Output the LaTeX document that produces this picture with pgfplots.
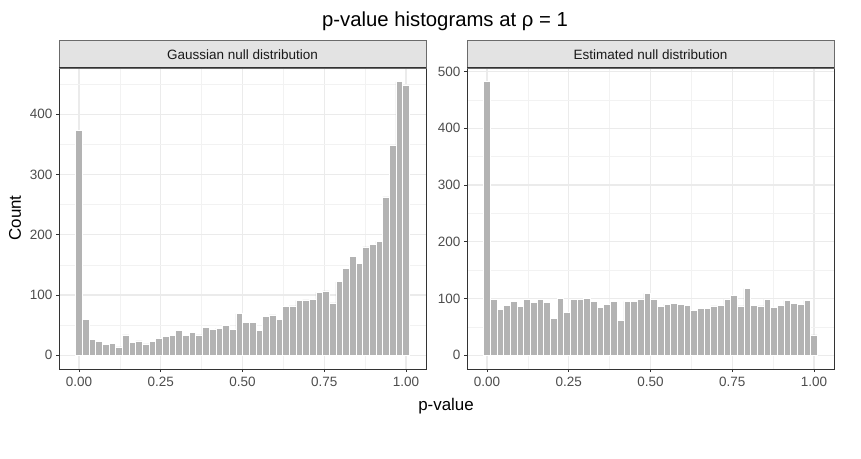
\documentclass[border=0pt]{standalone}
\usepackage{pgfplots}
\pgfplotsset{compat=1.18}
\usepackage{pgfplotstable}
\usetikzlibrary{calc}
\usepackage{fontspec}
\setmainfont{Liberation Sans}
\definecolor{barfill}{HTML}{B3B3B3}
\definecolor{gridmaj}{HTML}{EBEBEB}
\definecolor{gridmin}{HTML}{F2F2F2}
\definecolor{frame}{HTML}{333333}
\definecolor{ticklab}{HTML}{4D4D4D}
\definecolor{stripfill}{HTML}{E3E3E3}
\definecolor{stripframe}{HTML}{6B6B6B}

\pgfplotstableread{
x      g    e
0      373  482
0.0204 59   99
0.0408 27   81
0.0612 23   88
0.0816 18   95
0.1020 20   86
0.1224 14   99
0.1429 34   93
0.1633 22   99
0.1837 24   93
0.2041 19   65
0.2245 23   100
0.2449 28   75
0.2653 32   98
0.2857 33   99
0.3061 41   100
0.3265 33   95
0.3469 38   85
0.3673 34   90
0.3878 46   95
0.4082 43   61
0.4286 45   95
0.4490 49   95
0.4694 43   98
0.4898 69   109
0.5102 55   99
0.5306 55   86
0.5510 42   90
0.5714 64   92
0.5918 67   90
0.6122 60   88
0.6327 81   79
0.6531 82   83
0.6735 91   82
0.6939 92   87
0.7143 93   88
0.7347 105  99
0.7551 107  105
0.7755 87   87
0.7959 122  118
0.8163 144  88
0.8367 164  87
0.8571 153  99
0.8776 180  85
0.8980 184  88
0.9184 189  97
0.9388 263  92
0.9592 348  90
0.9796 454  97
1.0000 448  36
}\histdata

\pgfplotsset{
  facet/.style={
    scale only axis,
    width=367pt, height=301pt,
    xmin=-0.0612, xmax=1.0612,
    xtick={0,0.25,0.5,0.75,1},
    xticklabels={0.00,0.25,0.50,0.75,1.00},
    minor xtick={0.125,0.375,0.625,0.875},
    grid=both,
    major grid style={gridmaj, line width=1.1pt},
    minor grid style={gridmin, line width=0.55pt},
    minor tick length=0pt,
    major tick length=3pt,
    tick align=outside,
    xtick pos=bottom, ytick pos=left,
    tick style={frame, line width=0.7pt},
    axis line style={frame, line width=1pt},
    axis on top=false,
    ticklabel style={font=\fontsize{13.5}{15}\selectfont, text=ticklab},
    /pgf/number format/assume math mode=true,
    xticklabel style={yshift=-1.5pt},
    yticklabel style={xshift=0pt},
    ybar, bar width=0.0204, bar shift=0pt,
    clip=true,
  }
}

\begin{document}
\begin{tikzpicture}[x=1pt,y=1pt]
\useasboundingbox (0,0) rectangle (861,458);

\begin{axis}[facet, name=left, at={(59pt,89pt)}, anchor=south west,
  ymin=-22.7, ymax=476.7,
  ytick={0,100,200,300,400},
  minor ytick={50,150,250,350,450}]
  \addplot[fill=barfill, draw=white, line width=0.6pt] table[x=x, y=g] {\histdata};
\end{axis}

\begin{axis}[facet, name=right, at={(467pt,89pt)}, anchor=south west,
  ymin=-24.1, ymax=506.1,
  ytick={0,100,200,300,400,500},
  minor ytick={50,150,250,350,450}]
  \addplot[fill=barfill, draw=white, line width=0.6pt] table[x=x, y=e] {\histdata};
\end{axis}

% facet strips
\draw[fill=stripfill, draw=stripframe, line width=0.8pt] (left.north west) rectangle ([yshift=27.5pt]left.north east);
\draw[fill=stripfill, draw=stripframe, line width=0.8pt] (right.north west) rectangle ([yshift=27.5pt]right.north east);
\draw[frame, line width=1pt] (left.north west) -- (left.north east);
\draw[frame, line width=1pt] (right.north west) -- (right.north east);
\node[font=\fontsize{13.5}{15}\selectfont, text=black!90] at ($(left.north west)!0.5!(left.north east)+(0,13.75)$) {Gaussian null distribution};
\node[font=\fontsize{13.5}{15}\selectfont, text=black!90] at ($(right.north west)!0.5!(right.north east)+(0,13.75)$) {Estimated null distribution};

% titles
\node[font=\fontsize{20.3}{23}\selectfont] at (445,437) {p-value histograms at ρ = 1};
\node[font=\fontsize{16.9}{19}\selectfont] at (446,52) {p-value};
\node[font=\fontsize{16.9}{19}\selectfont, rotate=90] at (15,240) {Count};
\end{tikzpicture}
\end{document}
